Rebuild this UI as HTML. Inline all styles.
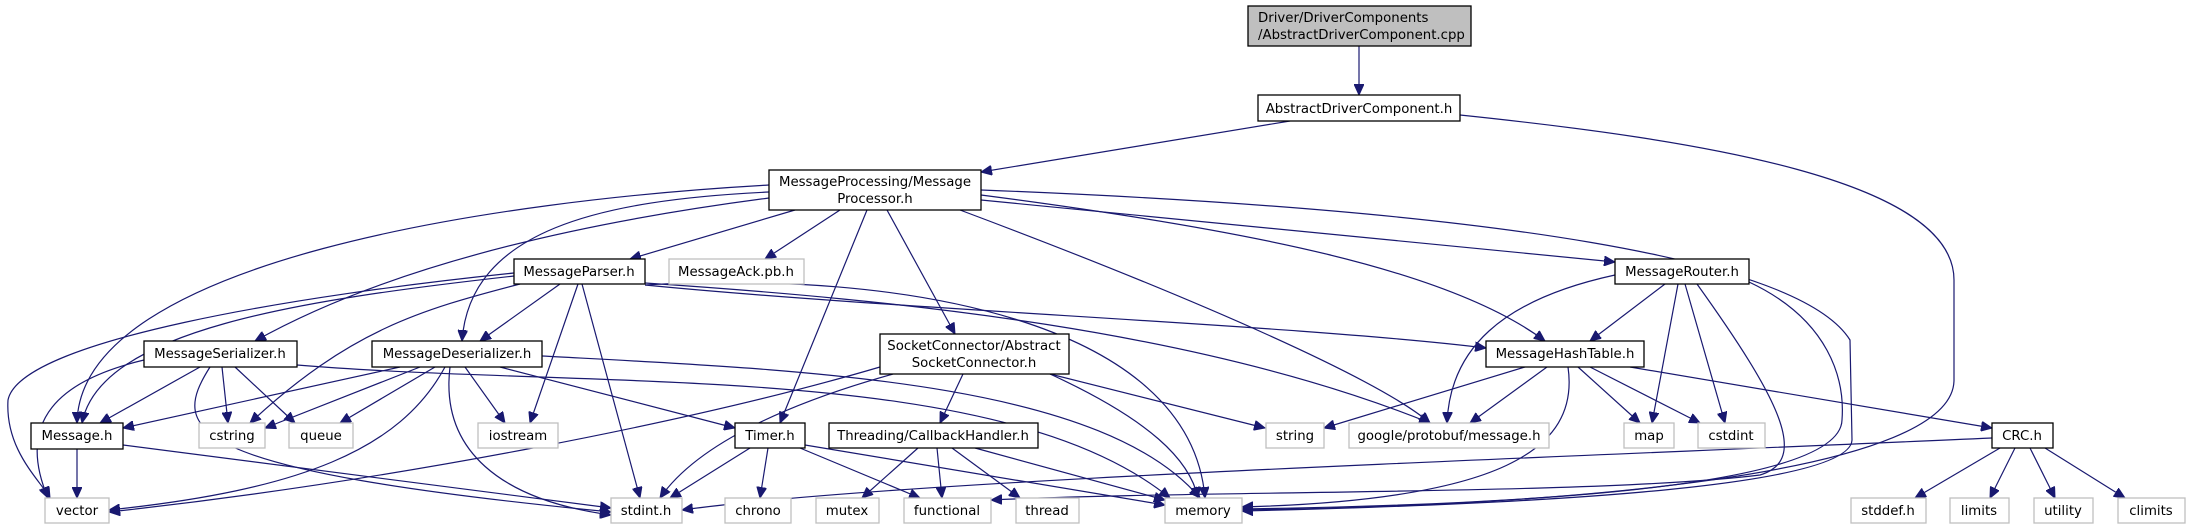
<!DOCTYPE html>
<html><head><meta charset="utf-8"><style>
html,body{margin:0;padding:0;background:#fff;}
svg{display:block;}
text{font-family:"DejaVu Sans","Liberation Sans",sans-serif;font-size:13.3px;fill:#000;}
.b{fill:#fff;stroke:#000;stroke-width:1.3;}
.g{fill:#fff;stroke:#bfbfbf;stroke-width:1.3;}
path{fill:none;stroke:#191970;stroke-width:1.2;}
</style></head><body>
<svg width="2190" height="529" viewBox="0 0 2190 529" xmlns="http://www.w3.org/2000/svg">
<defs><marker id="a" markerUnits="userSpaceOnUse" markerWidth="12" markerHeight="10" refX="11" refY="5" orient="auto"><polygon points="0,0 11,5 0,10" fill="#191970" stroke="#191970"/></marker></defs>
<g marker-end="url(#a)">
<path d="M1359,46 L1359,95"/>
<path d="M1290,121 L981,172"/>
<path d="M1460,115 C1700,140 1954,180 1954,280 L1954,380 C1954,470 1600,505 1242,510"/>
<path d="M769,185 C500,200 80,260 77,423"/>
<path d="M795,210 L630,259"/>
<path d="M840,210 L765,259"/>
<path d="M769,198 C600,220 400,260 255,341"/>
<path d="M769,192 C600,200 470,230 462,341"/>
<path d="M867,210 L780,423"/>
<path d="M887,210 L955,334"/>
<path d="M960,210 C1200,300 1380,380 1430,423"/>
<path d="M981,195 C1250,230 1450,270 1545,341"/>
<path d="M981,200 L1615,262"/>
<path d="M981,190 C1500,210 1800,260 1850,340 L1852,440 C1850,490 1500,505 1242,511"/>
<path d="M514,276 C300,300 100,330 82,423"/>
<path d="M514,273 C300,295 20,340 8,400 C5,450 40,480 50,498"/>
<path d="M520,284 C420,310 350,330 250,423"/>
<path d="M560,284 L480,341"/>
<path d="M578,284 L530,423"/>
<path d="M582,284 L640,498"/>
<path d="M645,283 C900,300 1200,330 1430,423"/>
<path d="M645,285 C900,310 1300,325 1486,348"/>
<path d="M645,285 C900,270 1190,320 1205,498"/>
<path d="M144,360 C60,380 15,420 48,498"/>
<path d="M200,367 L100,423"/>
<path d="M222,367 L228,423"/>
<path d="M235,367 L295,423"/>
<path d="M210,367 C170,430 180,470 611,512"/>
<path d="M297,365 C600,390 1000,360 1170,498"/>
<path d="M400,367 L123,428"/>
<path d="M420,367 L265,428"/>
<path d="M435,367 L340,423"/>
<path d="M445,367 C400,450 300,490 109,510"/>
<path d="M450,367 C440,450 500,500 611,515"/>
<path d="M465,367 L505,423"/>
<path d="M500,367 L735,428"/>
<path d="M542,356 C800,370 1100,380 1200,498"/>
<path d="M77,449 L77,498"/>
<path d="M123,445 L611,508"/>
<path d="M880,367 C700,420 400,480 109,512"/>
<path d="M893,374 C800,400 700,440 660,498"/>
<path d="M963,374 L940,423"/>
<path d="M1050,374 L1265,428"/>
<path d="M1050,374 C1150,420 1190,460 1198,498"/>
<path d="M750,448 L670,498"/>
<path d="M768,448 L760,498"/>
<path d="M800,448 L920,498"/>
<path d="M805,445 L1165,505"/>
<path d="M918,448 L862,498"/>
<path d="M937,448 L942,498"/>
<path d="M952,448 L1020,498"/>
<path d="M975,448 L1165,500"/>
<path d="M1615,275 C1500,300 1450,350 1447,423"/>
<path d="M1665,284 L1590,341"/>
<path d="M1678,284 L1652,423"/>
<path d="M1685,284 L1725,423"/>
<path d="M1697,284 C1780,400 1810,460 1760,475 C1600,495 1200,490 991,500"/>
<path d="M1749,282 C1830,320 1845,380 1842,420 C1840,490 1500,505 1242,509"/>
<path d="M1525,367 L1324,428"/>
<path d="M1547,367 L1470,423"/>
<path d="M1578,367 L1640,423"/>
<path d="M1590,367 L1700,423"/>
<path d="M1568,367 C1580,450 1500,500 1242,507"/>
<path d="M1630,367 L1992,428"/>
<path d="M1992,438 C1500,460 900,480 682,510"/>
<path d="M2000,448 L1915,498"/>
<path d="M2015,448 L1990,498"/>
<path d="M2030,448 L2055,498"/>
<path d="M2045,448 L2125,498"/>
</g>
<g text-anchor="middle">
<rect x="1248" y="6" width="223" height="40" fill="#bfbfbf" stroke="#000" stroke-width="1.3"/>
<text x="1258" y="22" text-anchor="start">Driver/DriverComponents</text>
<text x="1258" y="39" text-anchor="start">/AbstractDriverComponent.cpp</text>
<rect class="b" x="1258" y="95" width="202" height="26"/><text x="1359" y="113">AbstractDriverComponent.h</text>
<rect class="b" x="769" y="170" width="212" height="40"/><text x="875" y="186">MessageProcessing/Message</text><text x="875" y="203">Processor.h</text>
<rect class="b" x="514" y="259" width="131" height="25"/><text x="579" y="276">MessageParser.h</text>
<rect class="g" x="669" y="259" width="135" height="25"/><text x="736" y="276">MessageAck.pb.h</text>
<rect class="b" x="1615" y="259" width="134" height="25"/><text x="1682" y="276">MessageRouter.h</text>
<rect class="b" x="144" y="341" width="153" height="26"/><text x="220" y="358">MessageSerializer.h</text>
<rect class="b" x="372" y="341" width="170" height="26"/><text x="457" y="358">MessageDeserializer.h</text>
<rect class="b" x="880" y="334" width="189" height="40"/><text x="974" y="350">SocketConnector/Abstract</text><text x="974" y="367">SocketConnector.h</text>
<rect class="b" x="1486" y="341" width="158" height="26"/><text x="1565" y="358">MessageHashTable.h</text>
<rect class="b" x="31" y="423" width="92" height="26"/><text x="77" y="440">Message.h</text>
<rect class="g" x="199" y="423" width="66" height="25"/><text x="232" y="440">cstring</text>
<rect class="g" x="289" y="423" width="64" height="25"/><text x="321" y="440">queue</text>
<rect class="g" x="478" y="423" width="80" height="25"/><text x="518" y="440">iostream</text>
<rect class="b" x="735" y="423" width="70" height="25"/><text x="770" y="440">Timer.h</text>
<rect class="b" x="829" y="423" width="209" height="25"/><text x="933" y="440">Threading/CallbackHandler.h</text>
<rect class="g" x="1266" y="423" width="58" height="25"/><text x="1295" y="440">string</text>
<rect class="g" x="1349" y="423" width="200" height="25"/><text x="1449" y="440">google/protobuf/message.h</text>
<rect class="g" x="1624" y="423" width="50" height="25"/><text x="1649" y="440">map</text>
<rect class="g" x="1698" y="423" width="67" height="25"/><text x="1731" y="440">cstdint</text>
<rect class="b" x="1992" y="423" width="61" height="25"/><text x="2022" y="440">CRC.h</text>
<rect class="g" x="45" y="498" width="64" height="25"/><text x="77" y="515">vector</text>
<rect class="g" x="611" y="498" width="71" height="25"/><text x="646" y="515">stdint.h</text>
<rect class="g" x="725" y="498" width="66" height="25"/><text x="758" y="515">chrono</text>
<rect class="g" x="816" y="498" width="63" height="25"/><text x="847" y="515">mutex</text>
<rect class="g" x="904" y="498" width="87" height="25"/><text x="947" y="515">functional</text>
<rect class="g" x="1016" y="498" width="63" height="25"/><text x="1047" y="515">thread</text>
<rect class="g" x="1165" y="498" width="77" height="25"/><text x="1203" y="515">memory</text>
<rect class="g" x="1851" y="498" width="75" height="25"/><text x="1888" y="515">stddef.h</text>
<rect class="g" x="1950" y="498" width="59" height="25"/><text x="1979" y="515">limits</text>
<rect class="g" x="2034" y="498" width="59" height="25"/><text x="2063" y="515">utility</text>
<rect class="g" x="2118" y="498" width="67" height="25"/><text x="2151" y="515">climits</text>
</g>
</svg>
</body></html>
